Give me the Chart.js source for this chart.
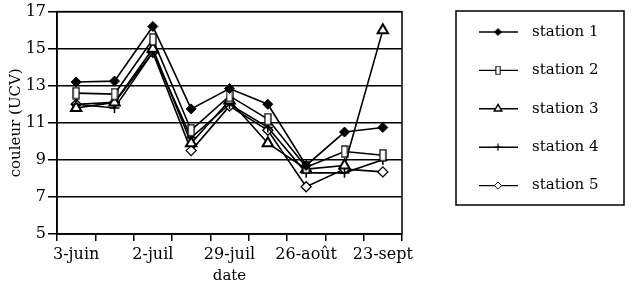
<!DOCTYPE html>
<html>
<head>
<meta charset="utf-8">
<script src="https://cdn.jsdelivr.net/npm/chart.js@4.4.1/dist/chart.umd.min.js"></script>
<style>
    html, body { margin: 0; padding: 0; background: #fff; }
    #cont { width: 635px; height: 288px; position: relative; }
</style>
</head>
<body>
<div id="cont"><canvas id="grafica"></canvas></div>
<script>
    // dates de prélèvement (une sur deux est affichée)
    const fechas = ['3-juin', '17-juin', '2-juil', '15-juil', '29-juil', '12-août', '26-août', '9-sept', '23-sept'];
    const nombres = ['station 1', 'station 2', 'station 3', 'station 4', 'station 5'];

    const station1 = [13.2, 13.25, 16.2, 11.75, 12.85, 12.0, 8.7, 10.5, 10.75];
    const station2 = [12.6, 12.55, 15.5, 10.6, 12.45, 11.2, 8.6, 9.45, 9.25];
    const station3 = [11.8, 12.1, 15.0, 9.9, 12.2, 9.9, 8.5, 8.7, 16.0];
    const station4 = [12.0, 11.8, 14.8, 10.2, 12.0, 10.75, 8.3, 8.3, 9.0];
    const station5 = [12.0, 12.1, 14.8, 9.5, 11.9, 10.6, 7.55, 8.5, 8.35];

    const ticksY = [5, 7, 9, 11, 13, 15, 17];

    const fuente = 'DejaVu Serif';

    // rectangle ouvert (station 2)
    const rectAlto = document.createElement('canvas');
    rectAlto.width = 8;
    rectAlto.height = 13;
    (function(){
        const c = rectAlto.getContext('2d');
        c.fillStyle = '#fff';
        c.fillRect(1, 1, 6, 11);
        c.strokeStyle = '#000';
        c.lineWidth = 1.3;
        c.strokeRect(1, 1, 6, 11);
    })();

    const estilos = [
        { pointStyle: 'rectRot', radius: 5, bg: '#000', bw: 1 },
        { pointStyle: rectAlto, radius: 6, bg: '#fff', bw: 1.3 },
        { pointStyle: 'triangle', radius: 6, bg: '#fff', bw: 2 },
        { pointStyle: 'cross', radius: 5, bg: '#000', bw: 1.6 },
        { pointStyle: 'rectRot', radius: 5, bg: '#fff', bw: 1.3 }
    ];

    const series = [station1, station2, station3, station4, station5];

    const datasets = series.map((valores, i) => {
        return {
            label: nombres[i],
            data: valores,
            borderColor: '#000',
            borderWidth: 1.6,
            pointStyle: estilos[i].pointStyle,
            pointRadius: estilos[i].radius,
            pointBackgroundColor: estilos[i].bg,
            pointBorderColor: '#000',
            pointBorderWidth: estilos[i].bw,
            tension: 0
        };
    });

    // cadre de la zone de tracé
    const cadre = {
        id: 'cadre',
        afterDatasetsDraw(chart) {
            const { ctx, chartArea } = chart;
            ctx.save();
            ctx.strokeStyle = '#000';
            ctx.lineWidth = 1.5;
            ctx.strokeRect(chartArea.left, chartArea.top, chartArea.right - chartArea.left, chartArea.bottom - chartArea.top);
            ctx.restore();
        }
    };

    // légende encadrée à droite
    const leyenda = {
        id: 'leyenda',
        afterDraw(chart) {
            const ctx = chart.ctx;
            ctx.save();
            ctx.strokeStyle = '#000';
            ctx.lineWidth = 1.5;
            ctx.strokeRect(456, 11, 168, 194);
            chart.data.datasets.forEach((ds, i) => {
                const y = 32 + i * 38.4;
                ctx.strokeStyle = '#000';
                ctx.lineWidth = 1.4;
                ctx.beginPath();
                ctx.moveTo(479, y);
                ctx.lineTo(518, y);
                ctx.stroke();
                // marqueur plus petit dans la légende
                ctx.save();
                ctx.translate(498, y);
                ctx.scale(0.72, 0.72);
                ctx.fillStyle = ds.pointBackgroundColor;
                ctx.lineWidth = ds.pointBorderWidth;
                if (Chart.helpers && Chart.helpers.drawPoint) {
                    Chart.helpers.drawPoint(ctx, {
                        pointStyle: ds.pointStyle,
                        radius: ds.pointRadius,
                        rotation: 0,
                        borderWidth: ds.pointBorderWidth
                    }, 0, 0);
                }
                ctx.restore();
                ctx.fillStyle = '#000';
                ctx.font = '15px "' + fuente + '"';
                ctx.textAlign = 'left';
                ctx.textBaseline = 'middle';
                ctx.fillText(ds.label, 532, y);
            });
            ctx.restore();
        }
    };

    const ctx = document.getElementById('grafica');

    const config = {
        type: 'line',
        data: {
            labels: fechas,
            datasets: datasets
        },
        options: {
            responsive: true,
            maintainAspectRatio: false,
            animation: false,
            layout: {
                padding: { top: 8, right: 233, left: 0, bottom: 0 }
            },
            plugins: {
                legend: { display: false },
                tooltip: { enabled: false }
            },
            scales: {
                x: {
                    type: 'category',
                    offset: true,
                    afterFit: function(scale) { scale.height = 54; },
                    grid: {
                        offset: true,
                        drawOnChartArea: false,
                        drawTicks: true,
                        tickLength: 7,
                        color: '#000',
                        lineWidth: 1.5
                    },
                    border: { display: true, color: '#000', width: 1.5 },
                    ticks: {
                        autoSkip: false,
                        maxRotation: 0,
                        padding: 4,
                        color: '#000',
                        font: { family: fuente, size: 16 },
                        callback: function(val, index) {
                            return index % 2 === 0 ? fechas[index] : '';
                        }
                    },
                    title: {
                        display: true,
                        text: 'date',
                        color: '#000',
                        font: { family: fuente, size: 15 },
                        padding: { top: 0, bottom: 3 }
                    }
                },
                y: {
                    min: 5,
                    max: 17,
                    afterFit: function(scale) { scale.width = 57; },
                    afterBuildTicks: function(scale) {
                        scale.ticks = ticksY.map(v => ({ value: v }));
                    },
                    grid: {
                        color: '#000',
                        lineWidth: 1.5,
                        drawTicks: true,
                        tickLength: 9
                    },
                    border: { display: true, color: '#000', width: 1.5 },
                    ticks: {
                        padding: 2,
                        color: '#000',
                        font: { family: fuente, size: 16 }
                    },
                    title: {
                        display: true,
                        text: 'couleur (UCV)',
                        color: '#000',
                        font: { family: fuente, size: 15 },
                        padding: { top: 7, bottom: 0 }
                    }
                }
            }
        },
        plugins: [cadre, leyenda]
    };

    new Chart(ctx, config);
</script>
</body>
</html>
